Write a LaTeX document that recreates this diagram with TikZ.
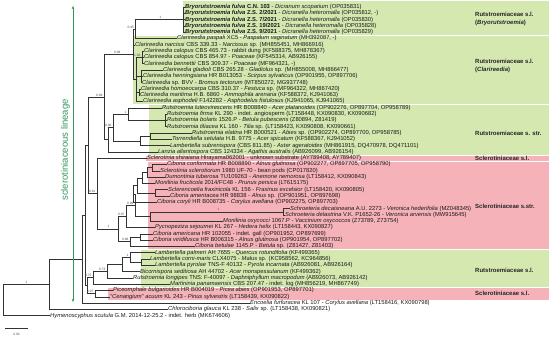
\documentclass[tikz,border=0pt]{standalone}
\usepackage{fontspec}
\setmainfont{Liberation Sans}
\usetikzlibrary{arrows.meta}
\definecolor{gbox}{RGB}{213,232,176}
\definecolor{pbox}{RGB}{245,178,184}
\definecolor{lin}{RGB}{55,150,90}
\newcommand{\rowy}[1]{\fpeval{7+(#1-1)*6.3}}
\begin{document}
\begin{tikzpicture}[x=1pt,y=-1pt,
  leaf/.style={anchor=west, inner sep=0pt, font=\fontsize{5.8}{6}\selectfont, text=black!90},
  br/.style={line width=0.45pt, draw=black!80},
  supv/.style={font=\fontsize{3.2}{3.5}\selectfont, text=black!70, inner sep=0.4pt, anchor=south east},
  grp/.style={font=\bfseries\fontsize{6}{7.6}\selectfont, anchor=west, align=left, text=black!85, inner sep=0pt},
  gbx/.style={fill=gbox, draw=white, line width=0.8pt},
  pbx/.style={fill=pbox, draw=white, line width=0.8pt}]
\useasboundingbox (0,0) rectangle (550,337);
% group boxes
\path[gbx] (182,0.5) rectangle (549,{\rowy{5.5}});
\path[gbx] (132,{\rowy{5.5}}) rectangle (549,{\rowy{16.5}});
\path[gbx] (148,{\rowy{16.5}}) rectangle (549,{\rowy{24.5}});
\path[pbx] (145,{\rowy{24.5}}) rectangle (549,{\rowy{25.5}});
\path[pbx] (147,{\rowy{25.5}}) rectangle (549,{\rowy{39.5}});
\path[gbx] (140,{\rowy{39.5}}) rectangle (549,{\rowy{45.5}});
\path[pbx] (107,{\rowy{45.5}}) rectangle (549,{\rowy{47.5}});
% group labels
\node[grp] (g1) at (475,19) {Rutstroemiaceae s.l.\\(\textit{Bryorutstroemia})};
\node[grp] (g2) at (475,66) {Rutstroemiaceae s.l.\\(\textit{Clarireedia})};
\node[grp] (g3) at (475,133) {Rutstroemiaceae s. str.};
\node[grp] (g4) at (475,{\rowy{25}}) {Sclerotiniaceae s.l.};
\node[grp] (g5) at (475,206) {Sclerotiniaceae s.str.};
\node[grp] (g6) at (475,270) {Rutstroemiaceae s.l.};
\node[grp] (g7) at (475,{\rowy{46.5}}) {Sclerotiniaceae s.l.};
% leaves
\node[leaf] (l1) at (185,{\rowy{1}}) {\textbf{\textit{Bryorutstroemia fulva} C.N. 103} - \textit{Dicranum scoparium} (OP035831)};
\node[leaf] (l2) at (185,{\rowy{2}}) {\textbf{\textit{Bryorutstroemia fulva} Z.S. 2/2021} - \textit{Dicranella heteromalla} (OP035812, -)};
\node[leaf] (l3) at (185,{\rowy{3}}) {\textbf{\textit{Bryorutstroemia fulva} Z.S. 7/2021} - \textit{Dicranella heteromalla} (OP035830)};
\node[leaf] (l4) at (185,{\rowy{4}}) {\textbf{\textit{Bryorutstroemia fulva} Z.S. 19/2021} - \textit{Dicranella heteromalla} (OP035828)};
\node[leaf] (l5) at (185,{\rowy{5}}) {\textbf{\textit{Bryorutstroemia fulva} Z.S. 9/2021} - \textit{Dicranella heteromalla} (OP035829)};
\node[leaf] (l6) at (177,{\rowy{6}}) {\textit{Clarireedia paspali} XC5 - \textit{Paspalum vaginatum} (MH392087, -)};
\node[leaf] (l7) at (135,{\rowy{7}}) {\textit{Clarireedia narcissi} CBS 339.33 - \textit{Narcissus} sp. (MH855451, MH866916)};
\node[leaf] (l8) at (144,{\rowy{8}}) {\textit{Clarireedia calopus} CBS 465.73 - rabbit dung (KF588375, MH878367)};
\node[leaf] (l9) at (144,{\rowy{9}}) {\textit{Clarireedia calopus} CBS 854.97 - \textit{Poaceae} (KF545314, AB926155)};
\node[leaf] (l10) at (144,{\rowy{10}}) {\textit{Clarireedia bennettii} CBS 309.37 - \textit{Poaceae} (MF964321, -)};
\node[leaf] (l11) at (163,{\rowy{11}}) {\textit{Clarireedia gladioli} CBS 265.28 - \textit{Gladiolus} sp. (MH855008, MH866477)};
\node[leaf] (l12) at (143,{\rowy{12}}) {\textit{Clarireedia henningsiana} HR B013053 - \textit{Scirpus sylvaticus} (OP901955, OP897706)};
\node[leaf] (l13) at (142,{\rowy{13}}) {\textit{Clarireedia} sp. BVV - \textit{Bromus tectorum} (MT850272, MG937748)};
\node[leaf] (l14) at (141,{\rowy{14}}) {\textit{Clarireedia homoeocarpa} CBS 310.37 - \textit{Festuca} sp. (MF964322, MH867420)};
\node[leaf] (l15) at (140,{\rowy{15}}) {\textit{Clarireedia maritima} H.B. 6860 - \textit{Ammophila arenaria} (KF588372, KJ941063)};
\node[leaf] (l16) at (143,{\rowy{16}}) {\textit{Clarireedia asphodeli} F142282 - \textit{Asphodelus fistulosus} (KJ941065, KJ941065)};
\node[leaf] (l17) at (162,{\rowy{17}}) {\textit{Rutstroemia luteovirescens} HR B008840 - \textit{Acer platanoides} (OP902276, OP897704, OP958789)};
\node[leaf] (l18) at (167,{\rowy{18}}) {\textit{Rutstroemia firma} KL 290 - indet. angiosperm (LT158448, KX090830, KX090682)};
\node[leaf] (l19) at (167,{\rowy{19}}) {\textit{Rutstroemia bolaris} 1526.P - \textit{Betula pubescens} (Z80894, Z81419)};
\node[leaf] (l20) at (167,{\rowy{20}}) {\textit{Rutstroemia tiliacea} KL 160 - \textit{Tilia} sp. (LT158423, KX090808, KX090661)};
\node[leaf] (l21) at (192,{\rowy{21}}) {\textit{Rutstroemia elatina} HR B000521 - \textit{Abies} sp. (OP902274, OP897700, OP958785)};
\node[leaf] (l22) at (172,{\rowy{22}}) {\textit{Torrendiella setulata} H.B. 9775 - \textit{Acer spicatum} (KF588367, KJ941052)};
\node[leaf] (l23) at (170,{\rowy{23}}) {\textit{Lambertella subrenispora} (CBS 811.85) - \textit{Aster ageratoides} (MH861915, DQ470978, DQ471101)};
\node[leaf] (l24) at (158,{\rowy{24}}) {\textit{Lanzia allantospora} CBS 124334 - \textit{Agathis australis} (AB926099, AB926154)};
\node[leaf] (l25) at (147,{\rowy{25}}) {\textit{Sclerotinia shiraiana} Hirayama062001 - unknown substrate (AY789408, AY789407)};
\node[leaf] (l26) at (167,{\rowy{26}}) {\textit{Ciboria conformata} HR B008890 - \textit{Alnus glutinosa} (OP902277, OP897705, OP958790)};
\node[leaf] (l27) at (160,{\rowy{27}}) {\textit{Sclerotinia sclerotiorum} 1980 UF-70 - bean pods (CP017820)};
\node[leaf] (l28) at (165,{\rowy{28}}) {\textit{Dumontinia tuberosa} TU109263 - \textit{Anemone nemorosa} (LT158412, KX090843)};
\node[leaf] (l29) at (155,{\rowy{29}}) {\textit{Monilinia fructicola} 2014/FC48 - \textit{Prunus persica} (LT615175)};
\node[leaf] (l30) at (168,{\rowy{30}}) {\textit{Sclerencoelia fraxinicola} KL 156 - \textit{Fraxinus excelsior} (LT158420, KX090805)};
\node[leaf] (l31) at (170,{\rowy{31}}) {\textit{Ciboria amentacea} HR 98838 - \textit{Alnus} sp. (OP901951, OP897698)};
\node[leaf] (l32) at (157,{\rowy{32}}) {\textit{Ciboria coryli} HR B008735 - \textit{Corylus avellana} (OP902275, OP897703)};
\node[leaf] (l33) at (290,{\rowy{33}}) {\textit{Schroeteria decaisneana} A.U. 2273 - \textit{Veronica hederifolia} (MZ048345)};
\node[leaf] (l34) at (285,{\rowy{34}}) {\textit{Schroeteria delastrina} V.K. P1652-26 - \textit{Veronica arvensis} (MW915645)};
\node[leaf] (l35) at (223,{\rowy{35}}) {\textit{Monilinia oxycocci} 1067.P - \textit{Vaccinium oxycoccos} (Z73789, Z73754)};
\node[leaf] (l36) at (155,{\rowy{36}}) {\textit{Pycnopeziza sejournei} KL 267 - \textit{Hedera helix} (LT158443, KX090827)};
\node[leaf] (l37) at (153,{\rowy{37}}) {\textit{Ciboria americana} HR 102055 - indet. gall (OP901952, OP897699)};
\node[leaf] (l38) at (153,{\rowy{38}}) {\textit{Ciboria viridifusca} HR B006315 - \textit{Alnus glutinosa} (OP901954, OP897702)};
\node[leaf] (l39) at (195,{\rowy{39}}) {\textit{Ciboria betulae} 1145.P - \textit{Betula} sp. (Z81427, Z81403)};
\node[leaf] (l40) at (155,{\rowy{40}}) {\textit{Lambertella palmeri} AH 7655 - \textit{Quercus rotundifolia} (KF499365)};
\node[leaf] (l41) at (150,{\rowy{41}}) {\textit{Lambertella corni-maris} CLX4075 - \textit{Malus} sp. (KC958562, KC964856)};
\node[leaf] (l42) at (155,{\rowy{42}}) {\textit{Lambertella pyrolae} TNS-F 40132 - \textit{Pyrola incarnata} (AB926081, AB926164)};
\node[leaf] (l43) at (140,{\rowy{43}}) {\textit{Bicornispora seditiosa} AH 44702 - \textit{Acer monspessulanum} (KF499362)};
\node[leaf] (l44) at (133,{\rowy{44}}) {\textit{Rutstroemia longipes} TNS: F-40097 - \textit{Daphniphyllum macropodum} (AB926073, AB926142)};
\node[leaf] (l45) at (170,{\rowy{45}}) {\textit{Martininia panamaensis} CBS 207.47 - indet. log (MH856219, MH867749)};
\node[leaf] (l46) at (113,{\rowy{46}}) {\textit{Piceomphale bulgarioides} HR B004019 - \textit{Picea abies} (OP901953, OP897701)};
\node[leaf] (l47) at (110,{\rowy{47}}) {“\textit{Cenangium}” \textit{acuum} KL 243 - \textit{Pinus sylvestris} (LT158439, KX090822)};
\node[leaf] (l48) at (250,{\rowy{48}}) {\textit{Encoelia furfuracea} KL 107 - \textit{Corylus avellana} (LT158416, KX090798)};
\node[leaf] (l49) at (168,{\rowy{49}}) {\textit{Chlorociboria glauca} KL 238 - \textit{Salix} sp. (LT158438, KX090821)};
\node[leaf] (l50) at (50,{\rowy{50}}) {\textit{Hymenoscyphus scutula} G.M. 2014-12-25.2 - indet. herb (MK674606)};
% internal nodes
\coordinate (nB) at (183,{\rowy{3}});
\coordinate (P1) at (135,{\rowy{4.5}});
\coordinate (nCal) at (142,{\rowy{9}});
\coordinate (nGla) at (141,{\rowy{12}});
\coordinate (nHm) at (139,{\rowy{14.5}});
\coordinate (nC2) at (136,{\rowy{12.5}});
\coordinate (nX) at (133,{\rowy{8.5}});
\coordinate (nR1) at (165,{\rowy{19}});
\coordinate (nR2) at (128,{\rowy{18}});
\coordinate (nR3) at (150,{\rowy{21.5}});
\coordinate (nR4) at (140,{\rowy{22.25}});
\coordinate (nR5) at (113,{\rowy{20.125}});
\coordinate (nR6) at (108,{\rowy{22.06}});
\coordinate (nTop) at (104,{\rowy{15.28}});
\coordinate (nS1) at (152,{\rowy{26.5}});
\coordinate (nS2) at (147,{\rowy{27.25}});
\coordinate (nS3) at (142,{\rowy{28.1}});
\coordinate (nS5) at (155,{\rowy{30.5}});
\coordinate (nS4) at (137,{\rowy{29.3}});
\coordinate (nS6) at (133,{\rowy{30.65}});
\coordinate (nSch) at (283,{\rowy{33.5}});
\coordinate (nS7) at (150,{\rowy{34.25}});
\coordinate (nS8) at (135,{\rowy{32.45}});
\coordinate (nS9) at (126,{\rowy{34.2}});
\coordinate (nAm) at (140,{\rowy{37.5}});
\coordinate (nS10) at (130,{\rowy{38.25}});
\coordinate (nS11) at (118,{\rowy{36.2}});
\coordinate (nS0) at (97,{\rowy{30.6}});
\coordinate (nL1) at (141,{\rowy{41.5}});
\coordinate (nL2) at (130,{\rowy{40.75}});
\coordinate (nL3) at (122,{\rowy{41.9}});
\coordinate (nL4) at (107,{\rowy{42.9}});
\coordinate (nL5) at (93,{\rowy{43.97}});
\coordinate (nPC) at (95,{\rowy{46.5}});
\coordinate (nU) at (88,{\rowy{22.94}});
\coordinate (nLo) at (87,{\rowy{45.2}});
\coordinate (nLin) at (85,{\rowy{34.07}});
\coordinate (nEnc) at (82,{\rowy{41.04}});
\coordinate (nChl) at (49,{\rowy{45.02}});
\coordinate (root) at (3,{\rowy{47.5}});
% branches
\foreach \p/\c in {nB/l1.west,nB/l2.west,nB/l3.west,nB/l4.west,nB/l5.west,
  P1/nB,P1/l6.west,nCal/l8.west,nCal/l9.west,nCal/l10.west,
  nGla/l11.west,nGla/l12.west,nGla/l13.west,nHm/l14.west,nHm/l15.west,
  nC2/nCal,nC2/nGla,nC2/nHm,nC2/l16.west,nX/P1,nX/l7.west,nX/nC2,
  nR1/l18.west,nR1/l19.west,nR1/l20.west,nR2/l17.west,nR2/nR1,
  nR3/l21.west,nR3/l22.west,nR4/nR3,nR4/l23.west,nR5/nR2,nR5/nR4,
  nR6/nR5,nR6/l24.west,nTop/nX,nTop/nR6,
  nS1/l26.west,nS1/l27.west,nS2/nS1,nS2/l28.west,nS3/nS2,nS3/l29.west,
  nS5/l30.west,nS5/l31.west,nS4/nS3,nS4/nS5,nS6/nS4,nS6/l32.west,
  nSch/l33.west,nSch/l34.west,nS7/nSch,nS7/l35.west,nS8/nS6,nS8/nS7,
  nS9/nS8,nS9/l36.west,nAm/l37.west,nAm/l38.west,nS10/nAm,nS10/l39.west,
  nS11/nS9,nS11/nS10,nS0/l25.west,nS0/nS11,
  nL1/l41.west,nL1/l42.west,nL2/l40.west,nL2/nL1,nL3/nL2,nL3/l43.west,
  nL4/nL3,nL4/l44.west,nL5/nL4,nL5/l45.west,nPC/l46.west,nPC/l47.west,
  nU/nTop,nU/nS0,nLo/nL5,nLo/nPC,nLin/nU,nLin/nLo,
  nEnc/nLin,nEnc/l48.west,nChl/nEnc,nChl/l49.west,root/nChl,root/l50.west}
  \draw[br] (\p) |- (\c);
% support values
\node[supv] (s1) at (162,{\rowy{3}-0.3}) {1};
\node[supv] (s2) at (134.5,{\rowy{4.5}-0.3}) {0.95};
\node[supv] (s3) at (121,{\rowy{8.5}-0.3}) {0.98};
\node[supv] (s4) at (141,{\rowy{9}-0.3}) {1.00};
\node[supv] (s5) at (103,{\rowy{15.28}-0.3}) {0.99};
\node[supv] (s6) at (112,{\rowy{20.125}-0.3}) {0.96};
\node[supv] (s7) at (127,{\rowy{18}-0.3}) {1};
\node[supv] (s8) at (96,{\rowy{30.6}-0.3}) {0.81};
\node[supv] (s9) at (220,{\rowy{33.5}-0.3}) {1};
\node[supv] (s10) at (134,{\rowy{32.45}-0.3}) {0.99};
\node[supv] (s11) at (125,{\rowy{34.2}-0.3}) {0.97};
\node[supv] (s12) at (129,{\rowy{38.25}-0.3}) {0.98};
\node[supv] (s13) at (110,{\rowy{36.2}-0.3}) {1};
\node[supv] (s14) at (129,{\rowy{40.75}-0.3}) {1};
\node[supv] (s15) at (106,{\rowy{42.9}-0.3}) {0.73};
\node[supv] (s16) at (92,{\rowy{43.97}-0.3}) {0.75};
\node[supv] (s17) at (94,{\rowy{46.5}-0.3}) {0.97};
\node[supv] (s18) at (28,{\rowy{45.02}-0.3}) {1};
% lineage arrow
\draw[lin, line width=0.6pt, {Stealth[length=3.2pt,width=2.6pt]}-{Stealth[length=3.2pt,width=2.6pt]}] (73,6) coordinate (a1) -- (73,302) coordinate (a2);
\node[rotate=90, text=lin, font=\fontsize{9.5}{10.5}\selectfont, inner sep=0pt] (linlab) at (65.5,150) {sclerotiniaceous lineage};
% scale bar
\draw[br] (5,328) coordinate (sb1) -- (28,328) coordinate (sb2);
\node[font=\fontsize{3.2}{3.5}\selectfont, text=black!70, inner sep=0pt] (sbl) at (16.5,334) {0.04};
\end{tikzpicture}
\end{document}
